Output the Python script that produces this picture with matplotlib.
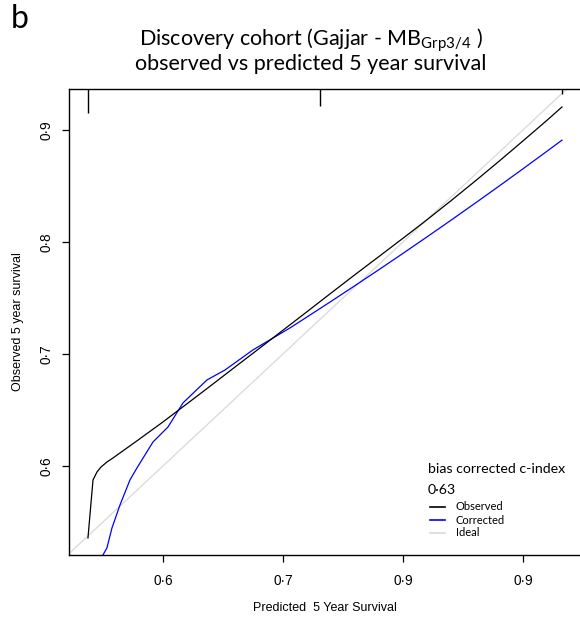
import matplotlib
matplotlib.use("Agg")
import matplotlib.pyplot as plt
import matplotlib.transforms as mtransforms

# ---- data ----
obs_x = [0.5375, 0.5417, 0.545, 0.5483, 0.5533, 0.5583, 0.58, 0.60, 0.62, 0.64,
         0.66, 0.68, 0.70, 0.72, 0.74, 0.76, 0.78, 0.80, 0.82, 0.84, 0.86, 0.88,
         0.90, 0.92, 0.9325]
obs_y = [0.5357, 0.5875, 0.5946, 0.5990, 0.6035, 0.6071, 0.6237, 0.6393, 0.6555,
         0.6718, 0.6883, 0.7047, 0.7212, 0.7377, 0.7543, 0.7708, 0.7870, 0.8033,
         0.8198, 0.8368, 0.8542, 0.8720, 0.8902, 0.9086, 0.9205]

cor_x = [0.55, 0.5533, 0.5575, 0.5642, 0.5725, 0.5783, 0.5917, 0.6042, 0.6167,
         0.6367, 0.6517, 0.675, 0.7058, 0.72, 0.74, 0.76, 0.78, 0.80, 0.82, 0.84,
         0.86, 0.88, 0.90, 0.92, 0.9325]
cor_y = [0.5205, 0.5268, 0.5446, 0.5652, 0.5875, 0.5982, 0.6214, 0.6348, 0.6563,
         0.6768, 0.6857, 0.7036, 0.7232, 0.7330, 0.7469, 0.7610, 0.7753, 0.7898,
         0.8045, 0.8194, 0.8345, 0.8498, 0.8653, 0.8810, 0.8909]

ideal = [0.50, 0.96]

rug_x = [0.5375, 0.7308, 0.9325]
rug_h = [24, 17, 5]          # relative frequency tick heights

x_ticks = [0.6, 0.7, 0.8, 0.9]
x_tick_labels = ["0·6", "0·7", "0·9", "0·9"]
y_ticks = [0.6, 0.7, 0.8, 0.9]
y_tick_labels = ["0·6", "0·7", "0·8", "0·9"]

cindex_label = "bias corrected c-index"
cindex_value = "0·63"
series_names = ["Observed", "Corrected", "Ideal"]

# ---- figure ----
W, H = 580, 623
fig = plt.figure(figsize=(W / 100, H / 100), dpi=100)
plt.rcParams['mathtext.fontset'] = 'custom'
plt.rcParams['mathtext.rm'] = 'Lato'
plt.rcParams['mathtext.it'] = 'Lato:italic'

left_px, right_px, top_px, bot_px = 69, 595, 89, 555
ax = fig.add_axes([left_px / W, 1 - bot_px / H, (right_px - left_px) / W, (bot_px - top_px) / H])

ax.plot(ideal, ideal, color="#d9d9d9", lw=0.9, zorder=1)
ax.plot(obs_x, obs_y, color="black", lw=0.9, zorder=3)
ax.plot(cor_x, cor_y, color="#0000ff", lw=0.9, zorder=2)

ax.set_xlim(0.5217, 0.5217 + (right_px - left_px) / 1200)
ax.set_ylim(0.5205, 0.5205 + (bot_px - top_px) / 1120)

# rug-like frequency ticks along the top
trans = mtransforms.blended_transform_factory(ax.transData, ax.transAxes)
axh = bot_px - top_px
for xv, hv in zip(rug_x, rug_h):
    ax.plot([xv, xv], [1, 1 - hv / axh], color="black", lw=1.0, transform=trans,
            clip_on=False, solid_capstyle="butt")

for s in ["left", "bottom", "top"]:
    ax.spines[s].set_linewidth(1.0)
ax.spines["right"].set_visible(False)

ax.set_xticks(x_ticks)
ax.set_xticklabels(x_tick_labels, fontfamily="Liberation Sans", fontsize=9.8)
ax.set_yticks(y_ticks)
ax.set_yticklabels(y_tick_labels, fontfamily="Liberation Sans", fontsize=9.8,
                   rotation=90, va="center")
ax.tick_params(axis="x", length=5, width=0.9, pad=9)
ax.tick_params(axis="y", length=5, width=0.9, pad=6)

fig.text(18 / W, 1 - 322 / H, "Observed 5 year survival", rotation=90,
         ha="center", va="center", fontfamily="Liberation Sans", fontsize=9.0)
fig.text(325 / W, 1 - 608 / H, "Predicted  5 Year Survival",
         ha="center", va="center", fontfamily="Liberation Sans", fontsize=9.0)

# titles
fig.text(311 / W, 1 - 40 / H, r"Discovery cohort (Gajjar - MB$_{\mathrm{Grp3/4}}$ )",
         ha="center", va="center", fontfamily="Lato", fontsize=15.5)
fig.text(311 / W, 1 - 64 / H, "observed vs predicted 5 year survival",
         ha="center", va="center", fontfamily="Lato", fontsize=15.5)
fig.text(11 / W, 1 - 19 / H, "b", ha="left", va="center", fontfamily="Lato", fontsize=23)

# legend block
fig.text(428 / W, 1 - 469 / H, cindex_label, ha="left", va="center",
         fontfamily="Lato", fontsize=10.2)
fig.text(428 / W, 1 - 490 / H, cindex_value, ha="left", va="center",
         fontfamily="Lato", fontsize=10.2)
colors = ["black", "#0000ff", "#d9d9d9"]
ys = [507, 520, 533]
for name, c, yy in zip(series_names, colors, ys):
    fig.add_artist(plt.Line2D([430 / W, 445 / W], [1 - yy / H, 1 - yy / H], color=c, lw=1.2))
    fig.text(456 / W, 1 - yy / H, name, ha="left", va="center", fontfamily="Lato", fontsize=8)

fig.savefig("out.png", dpi=100)
